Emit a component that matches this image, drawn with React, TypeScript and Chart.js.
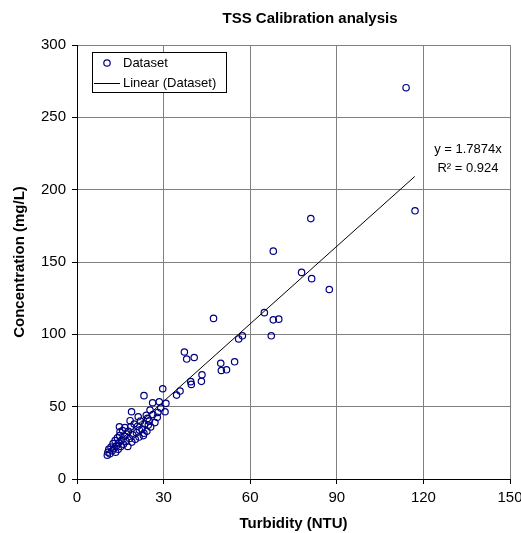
import React, { useEffect, useRef } from "react";
import { Chart, registerables } from "chart.js";

Chart.register(...registerables);

// measured turbidity (NTU) and concentration (mg/L)
const turbidity = [
  114, 117.1, 81, 68, 77.8, 81.3, 87.4, 64.9, 68, 69.9, 67.3, 47.3, 57.3, 56,
  37.2, 38, 40.6, 49.8, 54.6, 50, 51.8, 43.3, 43.1, 39.4, 39.6, 35.7, 34.5,
  29.7, 23.2, 26.2, 28.5, 30.8, 30.5, 18.9, 25.3, 27.8, 24.4, 21.2, 18.4, 24.7,
  14.7, 14.9, 21.6, 23.2, 10.5, 10.7, 11, 11.4, 11.8, 12.2, 12.5, 12.8, 13.2,
  13.4, 13.7, 14, 14.3, 14.5, 14.8, 15.2, 15.5, 15.8, 16.1, 16.4, 16.6, 17,
  17.3, 17.6, 17.8, 18.2, 18.6, 19, 19.3, 19.8, 20.2, 20.6, 21, 21.5, 22, 22.5,
  23, 23.5, 24, 24.2, 25, 25.5, 26.3, 27, 28, 29,
];
const concentration = [
  270.5, 185.4, 180, 157.5, 142.8, 138.5, 131, 115, 110, 110.5, 99, 111, 99,
  96.8, 87.8, 82.9, 84, 80, 81, 75, 75.5, 72, 67.5, 67.3, 65.4, 60.8, 58, 62.4,
  57.6, 52.7, 53.4, 52.3, 46.5, 46.5, 47.7, 42.6, 41.9, 43, 40.3, 37.3, 36.1,
  32.7, 33.9, 31.6, 16.5, 18.5, 20.5, 17.5, 22, 19.5, 24.5, 21, 26.5, 18.5, 23,
  28.5, 20.5, 25, 30, 22.5, 27, 33.5, 24, 29.5, 35.5, 26, 31, 22.5, 33, 28, 36,
  25.5, 30.5, 38, 27.5, 32, 36.5, 29, 40, 34.5, 30, 38, 44, 33, 40, 36, 44.5,
  39, 46, 49,
];

// linear trend (forced through origin), end points
const trendX = [10.5, 117];
const trendY = [18.8, 209.1];

const equation = "y = 1.7874x";
const rSquared = "R² = 0.924";

const FONT = "'Liberation Sans', Arial, sans-serif";

const overlay = {
  id: "overlay",
  afterDraw: (chart: Chart) => {
    const ctx = chart.ctx;
    ctx.save();
    // title
    ctx.fillStyle = "#000";
    ctx.font = `bold 15px ${FONT}`;
    ctx.textAlign = "center";
    ctx.textBaseline = "middle";
    ctx.fillText("TSS Calibration analysis", 310, 19);

    // legend
    ctx.fillStyle = "#fff";
    ctx.fillRect(92.5, 52.5, 134, 40);
    ctx.strokeStyle = "#000";
    ctx.lineWidth = 1;
    ctx.strokeRect(92.5, 52.5, 134, 40);
    ctx.beginPath();
    ctx.arc(107, 63, 3.2, 0, Math.PI * 2);
    ctx.strokeStyle = "#000080";
    ctx.lineWidth = 1.2;
    ctx.stroke();
    ctx.beginPath();
    ctx.moveTo(94, 83.5);
    ctx.lineTo(120, 83.5);
    ctx.strokeStyle = "#000";
    ctx.lineWidth = 1;
    ctx.stroke();
    ctx.fillStyle = "#000";
    ctx.font = `13px ${FONT}`;
    ctx.textAlign = "left";
    ctx.fillText("Dataset", 123, 63);
    ctx.fillText("Linear (Dataset)", 123, 83);

    // trend equation
    ctx.textAlign = "center";
    ctx.fillText(equation, 468, 149);
    ctx.fillText(rSquared, 468, 168);
    ctx.restore();
  },
};

const App = () => {
  const canvasRef = useRef<HTMLCanvasElement>(null);

  useEffect(() => {
    const ctx = canvasRef.current?.getContext("2d");
    if (!ctx) return;

    const chart = new Chart(ctx, {
      type: "scatter",
      data: {
        datasets: [
          {
            label: "Dataset",
            data: turbidity.map((x, i) => ({ x, y: concentration[i] })),
            pointStyle: "circle",
            pointRadius: 3.2,
            borderWidth: 1.2,
            borderColor: "#000080",
            backgroundColor: "rgba(0,0,0,0)",
          },
          {
            type: "line",
            label: "Linear (Dataset)",
            data: trendX.map((x, i) => ({ x, y: trendY[i] })),
            borderColor: "#000",
            borderWidth: 1,
            pointRadius: 0,
            fill: false,
          },
        ],
      },
      options: {
        animation: false,
        responsive: true,
        maintainAspectRatio: false,
        layout: { padding: { top: 45, right: 11, left: 0, bottom: 0 } },
        plugins: {
          legend: { display: false },
          tooltip: { enabled: false },
          title: { display: false },
        },
        scales: {
          x: {
            type: "linear",
            min: 0,
            max: 150,
            afterFit: (scale) => {
              scale.height = 54;
              scale.paddingLeft = 0;
              scale.paddingRight = 0;
            },
            ticks: {
              stepSize: 30,
              color: "#000",
              padding: 5,
              font: { family: FONT, size: 15 },
            },
            grid: { color: "#808080", tickColor: "#000", tickLength: 5 },
            border: { color: "#000", width: 1 },
            title: {
              display: true,
              text: "Turbidity (NTU)",
              color: "#000",
              font: { family: FONT, size: 15, weight: "bold" },
              padding: { top: 1, bottom: 0 },
            },
          },
          y: {
            type: "linear",
            min: 0,
            max: 300,
            afterFit: (scale) => {
              scale.width = 77;
            },
            ticks: {
              stepSize: 50,
              color: "#000",
              padding: 6,
              font: { family: FONT, size: 15 },
            },
            grid: { color: "#808080", tickColor: "#000", tickLength: 5 },
            border: { color: "#000", width: 1 },
            title: {
              display: true,
              text: "Concentration (mg/L)",
              color: "#000",
              font: { family: FONT, size: 15, weight: "bold" },
              padding: { top: 11, bottom: 0 },
            },
          },
        },
      },
      plugins: [overlay],
    });

    return () => {
      chart.destroy();
    };
  }, []);

  return (
    <div
      style={{
        position: "absolute",
        left: 0,
        top: 0,
        width: 521,
        height: 533,
        background: "#fff",
      }}
    >
      <canvas ref={canvasRef}></canvas>
    </div>
  );
};

export default App;
